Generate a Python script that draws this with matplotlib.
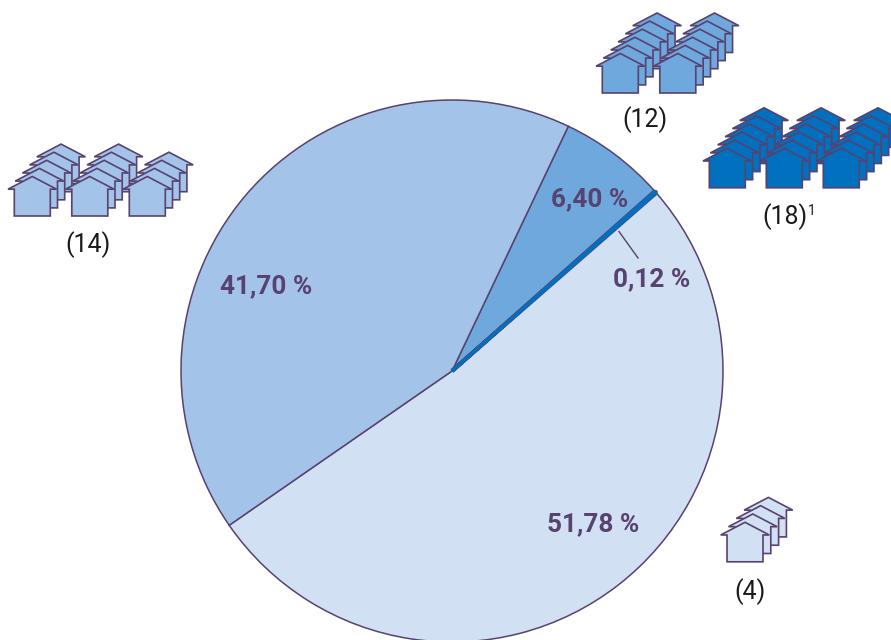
import matplotlib
matplotlib.use("Agg")
import matplotlib.pyplot as plt
from matplotlib.patches import Polygon
import matplotlib.patheffects as pe

plt.rcParams['font.family'] = ['Roboto', 'DejaVu Sans']

# Data
shares = [51.78, 0.12, 6.40, 41.70]
colors = ['#D2E0F3', '#0070BF', '#6FA8DC', '#A3C3E8']
house_columns = [[5, 5, 4], [6, 6], [6, 6, 6], [4]]
house_labels = ['(14)', '(12)', '(18)', '(4)']
house_colors = ['#A3C3E8', '#6FA8DC', '#0070BF', '#D2E0F3']

EDGE = '#574270'
W, H = 891, 640

fig = plt.figure(figsize=(W / 100, H / 100), dpi=100)
ax = fig.add_axes([0, 0, 1, 1])

wedges, _ = ax.pie(shares, colors=colors, startangle=214.7, center=(452, H - 371), radius=271,
                   wedgeprops=dict(edgecolor=EDGE, linewidth=1.1), frame=False)
# the tiny slice is drawn as a visible strip
w = wedges[1]
w.set_edgecolor(colors[1])
w.set_linewidth(2.0)
w.set_joinstyle('bevel')
w.set_zorder(3)
w.set_path_effects([pe.Stroke(linewidth=3.0, foreground=EDGE), pe.Normal()])

ax.set_xlim(0, W)
ax.set_ylim(0, H)
ax.set_aspect('equal')
ax.axis('off')


def house(ax, x, y, color, z):
    """x, y = apex in image pixels."""
    pts = [(0, 0), (24.3, 12.7), (18, 12.7), (18, 39.5), (-18, 39.5),
           (-18, 12.7), (-24.3, 12.7)]
    ax.add_patch(Polygon([(x + a, H - (y + b)) for a, b in pts], closed=True,
                         facecolor=color, edgecolor=EDGE, linewidth=1.2,
                         joinstyle='miter', zorder=z))


def cluster(ax, apex, columns, color, dx, dy, spacing):
    for c, n in enumerate(columns):
        for i in range(n - 1, -1, -1):
            house(ax, apex[0] + c * spacing + i * dx, apex[1] + i * dy, color,
                  5 + (n - i) * 0.01 + c * 0.1)


cluster(ax, (32.3, 176.5), house_columns[0], house_colors[0], 7.2, -8.1, 57.5)
cluster(ax, (620.3, 53.5), house_columns[1], house_colors[1], 7.35, -8.1, 57.5)
cluster(ax, (727.3, 148.3), house_columns[2], house_colors[2], 7.35, -8.1, 57)
cluster(ax, (745, 522.3), house_columns[3], house_colors[3], 7.8, -8.3, 57)


def pct(v):
    return f"{v:.2f}".replace('.', ',') + " %"


pct_pos = [(593.5, 524), (652, 279), (589.5, 199), (266.5, 286)]
for v, (x, y) in zip(shares, pct_pos):
    ax.text(x, H - y, pct(v), color=EDGE, fontsize=18.8, fontweight='bold',
            ha='center', va='center', zorder=10)

lab_pos = [(88, 245), (645, 120), (785, 217), (749.5, 592)]
for s, (x, y) in zip(house_labels, lab_pos):
    ax.text(x, H - y, s, color='#1a1a1a', fontsize=18, ha='center', va='center', zorder=10)
ax.text(808, H - 211, '1', color='#1a1a1a', fontsize=10, ha='left', va='center', zorder=10)

ax.plot([619, 638], [H - 231.5, H - 258], color=EDGE, lw=1.0, zorder=9)

fig.savefig('out.png', dpi=100)
